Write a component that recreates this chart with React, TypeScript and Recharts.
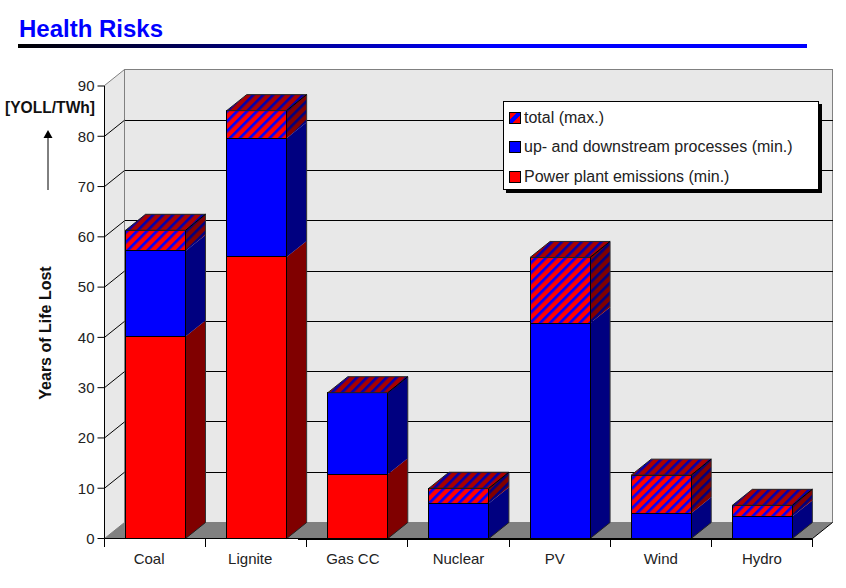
import { BarChart, Bar, XAxis, YAxis, CartesianGrid, Legend } from "recharts";

const categories = ["Coal", "Lignite", "Gas CC", "Nuclear", "PV", "Wind", "Hydro"];
const plantEmissions = [40.2, 56, 12.8, 0, 0, 0, 0];
const processes = [17, 23.6, 16.2, 7, 42.8, 5, 4.4];
const totalExtra = [4.1, 5.5, 0, 3, 13.1, 7.6, 2.2];
const yTicks = [0, 10, 20, 30, 40, 50, 60, 70, 80, 90];
const legendOrder = ["total (max.)", "up- and downstream processes (min.)", "Power plant emissions (min.)"];

const data = categories.map((name, i) => ({
  name,
  plant: plantEmissions[i],
  process: processes[i],
  extra: totalExtra[i],
}));

const FONT = "'Liberation Sans', Arial, sans-serif";
const DX = 20; // depth of the fake 3d
const DY = 16;
const LEFT = 104.5;
const RIGHT = 812.5;
const TOP = 86;
const BOTTOM = 538.5;
const WALL_TOP = 69.5;
const BAND = (RIGHT - LEFT) / categories.length;
// the original's labels are not quite centred on their bands
const LABEL_SHIFT = [-6, -6, -4.5, 0, -5, 0, 0];

const RED = "#ff0000";
const BLUE = "#0000ff";
const sideColor: Record<string, string> = {
  plant: "#800000",
  process: "#000080",
  extra: "url(#hatchSide)",
};

// one stacked block: front, side, and the lid for the top one
function block(kind: string) {
  return (p: any) => {
    const { x, y, width: w, height: h, fill, payload } = p;
    if (kind !== "extra" && !(h > 0)) return <g />;
    const rx = x + w;
    const bottomEdge = kind === "plant" || (kind === "process" && payload.plant === 0);
    return (
      <g>
        <polygon
          points={`${rx},${y} ${rx + DX},${y - DY} ${rx + DX},${y + h - DY} ${rx},${y + h}`}
          fill={sideColor[kind]}
        />
        <line x1={rx + DX} y1={y - DY} x2={rx + DX} y2={y + h - DY} stroke="#333" />
        {bottomEdge && <line x1={rx} y1={y + h} x2={rx + DX} y2={y + h - DY} stroke="#222" />}
        {h > 0 && (
          <rect x={x} y={y} width={w} height={h} fill={fill} stroke="#000" shapeRendering="crispEdges" />
        )}
        {kind === "extra" && (
          <polygon
            points={`${x},${y} ${x + DX},${y - DY} ${rx + DX},${y - DY} ${rx},${y}`}
            fill="url(#hatchTop)"
            stroke="#222"
          />
        )}
        {kind === "extra" && <line x1={rx} y1={y} x2={rx + DX} y2={y - DY} stroke="#000" />}
      </g>
    );
  };
}

function gridLine(p: any) {
  const { x1, x2, y1, index } = p;
  const inner = y1 > TOP + 1 && y1 < BOTTOM - 1;
  if (!inner) return <g key={index} />;
  return (
    <g key={index}>
      <line x1={x1 + DX} x2={x2 + DX} y1={y1 - DY} y2={y1 - DY} stroke="#000" shapeRendering="crispEdges" />
      <line x1={x1} x2={x1 + DX} y1={y1} y2={y1 - DY} stroke="#000" />
    </g>
  );
}

function XTick(p: any) {
  const { x, y, payload, index } = p;
  const yy = y - 8;
  return (
    <g>
      <line x1={x - BAND / 2} x2={x - BAND / 2} y1={yy} y2={yy + 8} stroke="#000" shapeRendering="crispEdges" />
      {index === categories.length - 1 && (
        <line x1={x + BAND / 2} x2={x + BAND / 2} y1={yy} y2={yy + 8} stroke="#000" shapeRendering="crispEdges" />
      )}
      <text x={x + LABEL_SHIFT[index]} y={yy + 25} textAnchor="middle" fontFamily={FONT} fontSize={15} fill="#222">
        {payload.value}
      </text>
    </g>
  );
}

function LegendBox({ payload }: any) {
  const rows = legendOrder.map((name) => (payload || []).find((r: any) => r.value === name)).filter(Boolean);
  return (
    <div
      style={{
        width: 316,
        height: 89,
        boxSizing: "border-box",
        background: "#fff",
        border: "1px solid #000",
        boxShadow: "3px 3px 0 #000",
        padding: "1px 0 0 5px",
        fontFamily: FONT,
        fontSize: 16,
        color: "#222",
      }}
    >
      {rows.map((r: any) => (
        <div key={r.value} style={{ display: "flex", alignItems: "center", height: 29.5, whiteSpace: "nowrap" }}>
          <svg width={12} height={12} style={{ marginRight: 3 }}>
            <rect x={0.5} y={0.5} width={11} height={11} fill={r.value.startsWith("total") ? "url(#hatchLegend)" : r.color} stroke="#000" />
          </svg>
          {r.value}
        </div>
      ))}
    </div>
  );
}

export default function App() {
  const wall = "#e8e8e8";
  const edge = "#808080";
  return (
    <div style={{ position: "absolute", left: 0, top: 0, width: 846, height: 588, background: "#fff", overflow: "hidden" }}>
      {/* walls, floor, title: everything behind the chart */}
      <svg width={846} height={588} style={{ position: "absolute", left: 0, top: 0 }}>
        <defs>
          <linearGradient id="rule" x1="0" x2="1" y1="0" y2="0">
            <stop offset="0" stopColor="#000" />
            <stop offset="0.6" stopColor="#0000ff" />
          </linearGradient>
          <pattern id="hatch" width="7" height="7" patternUnits="userSpaceOnUse" patternTransform="rotate(45)">
            <rect width="7" height="7" fill={RED} />
            <rect x="0" width="2.6" height="7" fill={BLUE} />
          </pattern>
          <pattern id="hatchTop" width="7" height="7" patternUnits="userSpaceOnUse" patternTransform="rotate(45)">
            <rect width="7" height="7" fill="#a80000" />
            <rect x="0" width="2.6" height="7" fill="#0000b0" />
          </pattern>
          <pattern id="hatchSide" width="7" height="7" patternUnits="userSpaceOnUse" patternTransform="rotate(45)">
            <rect width="7" height="7" fill="#800000" />
            <rect x="0" width="2.6" height="7" fill="#000080" />
          </pattern>
          <linearGradient id="hatchLegend" x1="0" x2="1" y1="0" y2="1">
            <stop offset="0.36" stopColor={RED} />
            <stop offset="0.36" stopColor={BLUE} />
            <stop offset="0.62" stopColor={BLUE} />
            <stop offset="0.62" stopColor={RED} />
          </linearGradient>
        </defs>
        <rect x={18} y={44} width={789} height={4} fill="url(#rule)" />
        <text x={19} y={37} fontFamily={FONT} fontWeight="bold" fontSize={24} fill="#0000ff">
          Health Risks
        </text>
        <text x={5} y={113} fontFamily={FONT} fontWeight="bold" fontSize={15.6} fill="#111">
          [YOLL/TWh]
        </text>
        <line x1={48} x2={48} y1={190} y2={136} stroke="#000" />
        <polygon points="48,130 43.5,138 52.5,138" fill="#000" />
        <text
          transform="translate(51 333) rotate(-90)"
          textAnchor="middle"
          fontFamily={FONT}
          fontWeight="bold"
          fontSize={16}
          fill="#111"
        >
          Years of Life Lost
        </text>
        <rect x={LEFT + DX} y={WALL_TOP} width={RIGHT - LEFT} height={BOTTOM - DY - WALL_TOP} fill={wall} stroke={edge} shapeRendering="crispEdges" />
        <polygon
          points={`${LEFT},${WALL_TOP + DY} ${LEFT + DX},${WALL_TOP} ${LEFT + DX},${BOTTOM - DY} ${LEFT},${BOTTOM}`}
          fill={wall}
          stroke={edge}
        />
        <polygon
          points={`${LEFT},${BOTTOM} ${LEFT + DX},${BOTTOM - DY} ${RIGHT + DX},${BOTTOM - DY} ${RIGHT},${BOTTOM}`}
          fill={edge}
        />
        <line x1={RIGHT} y1={BOTTOM} x2={RIGHT + DX} y2={BOTTOM - DY} stroke="#000" />
        {/* the baseline gets heavier past Lignite in the original */}
        <rect x={298} y={538} width={RIGHT - 298} height={2} fill="#000" />
      </svg>
      <div style={{ position: "absolute", left: 0, top: 0 }}>
        <BarChart
          width={846}
          height={588}
          data={data}
          barSize={60}
          margin={{ left: 64.5, right: 33.5, top: TOP, bottom: 19.5 }}
        >
          <CartesianGrid vertical={false} horizontal={gridLine} />
          <XAxis
            dataKey="name"
            height={30}
            tickLine={false}
            axisLine={{ stroke: "#000" }}
            interval={0}
            tick={XTick}
          />
          <YAxis
            width={40}
            domain={[0, 90]}
            ticks={yTicks}
            interval={0}
            tickSize={7}
            tickMargin={3}
            axisLine={{ stroke: "#000" }}
            tickLine={{ stroke: "#000" }}
            tick={{ fontFamily: FONT, fontSize: 15, fill: "#222" }}
          />
          <Legend
            layout="horizontal"
            verticalAlign="middle"
            align="center"
            content={LegendBox}
            wrapperStyle={{ left: 503, top: 101, right: "auto", bottom: "auto", width: 320 }}
          />
          <Bar dataKey="plant" name="Power plant emissions (min.)" stackId="a" fill={RED} isAnimationActive={false} shape={block("plant")} />
          <Bar dataKey="process" name="up- and downstream processes (min.)" stackId="a" fill={BLUE} isAnimationActive={false} shape={block("process")} />
          <Bar dataKey="extra" name="total (max.)" stackId="a" fill="url(#hatch)" isAnimationActive={false} shape={block("extra")} />
        </BarChart>
      </div>
    </div>
  );
}
